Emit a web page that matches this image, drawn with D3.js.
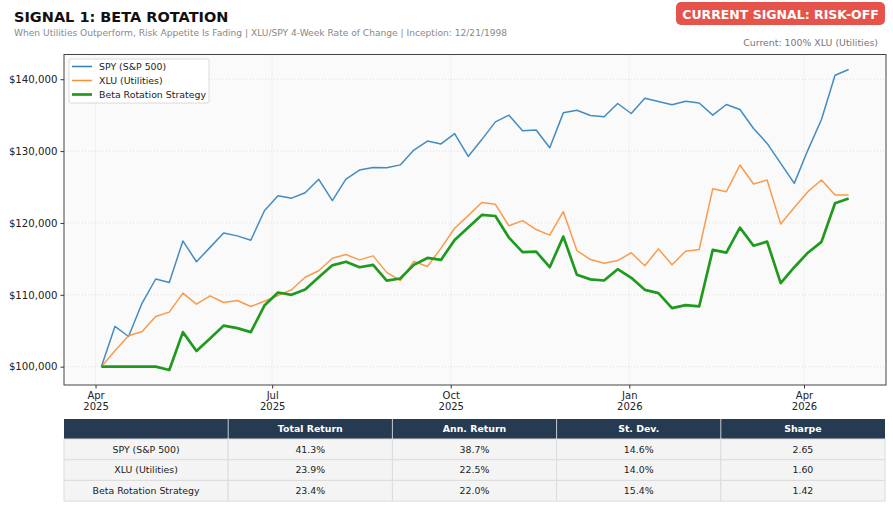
<!DOCTYPE html>
<html>
<head>
<meta charset="utf-8">
<script src="https://cdn.jsdelivr.net/npm/d3@7"></script>
<style>
  body { margin: 0; background: #fff; }
  text { font-family: "DejaVu Sans", sans-serif; }
</style>
</head>
<body>
<div id="chart"></div>
<script>
// weekly closes, growth of $100k
const dates = ['2025-04-04', '2025-04-11', '2025-04-18', '2025-04-25', '2025-05-02', '2025-05-09', '2025-05-16',
    '2025-05-23', '2025-05-30', '2025-06-06', '2025-06-13', '2025-06-20', '2025-06-27', '2025-07-04', '2025-07-11',
    '2025-07-18', '2025-07-25', '2025-08-01', '2025-08-08', '2025-08-15', '2025-08-22', '2025-08-29', '2025-09-05',
    '2025-09-12', '2025-09-19', '2025-09-26', '2025-10-03', '2025-10-10', '2025-10-17', '2025-10-24', '2025-10-31',
    '2025-11-07', '2025-11-14', '2025-11-21', '2025-11-28', '2025-12-05', '2025-12-12', '2025-12-19', '2025-12-26',
    '2026-01-02', '2026-01-09', '2026-01-16', '2026-01-23', '2026-01-30', '2026-02-06', '2026-02-13', '2026-02-20',
    '2026-02-27', '2026-03-06', '2026-03-13', '2026-03-20', '2026-03-27', '2026-04-03', '2026-04-10', '2026-04-17',
    '2026-04-24'];

const spy = [100000, 105600, 104200, 108850, 112200, 111700, 117500, 114600, 116600, 118600, 118200, 117600,
    121700, 123800, 123450, 124200, 126070, 123100, 126110, 127360, 127730, 127680, 128080, 130140, 131390,
    131000, 132430, 129260, 131600, 134070, 135000, 132820, 132940, 130460, 135320, 135690, 134950, 134770,
    136620, 135230, 137360, 136900, 136440, 136940, 136700, 135000, 136480, 135790, 133150, 131070, 128290,
    125510, 130140, 134400, 140560, 141350];

const xlu = [100000, 102200, 104300, 104900, 106990, 107590, 110230, 108700, 109860, 108930, 109210, 108380,
    109100, 109900, 110700, 112450, 113350, 115090, 115600, 114860, 115420, 113120, 111990, 114630, 113930,
    116490, 119260, 121020, 122850, 122590, 119600, 120320, 119080, 118310, 121570, 116160, 114900, 114400,
    114770, 115850, 114050, 116390, 114190, 116060, 116300, 124770, 124350, 128060, 125420, 125970, 119840,
    122150, 124350, 125970, 123890, 123890];

const strategy = [100000, 100000, 100000, 100000, 100000, 99540, 104810, 102180, 103910, 105710, 105370, 104810,
    108500, 110320, 110000, 110740, 112430, 114100, 114600, 113840, 114170, 111970, 112270, 114170, 115130,
    114860, 117640, 119380, 121110, 120970, 117950, 115930, 116020, 113840, 118100, 112780, 112150, 111990,
    113560, 112370, 110690, 110230, 108150, 108560, 108380, 116250, 115880, 119350, 116830, 117400, 111620,
    113840, 115860, 117370, 122740, 123400];

const seriesNames = ['SPY (S&P 500)', 'XLU (Utilities)', 'Beta Rotation Strategy'];
const xTickDates = ['2025-04-01', '2025-07-01', '2025-10-01', '2026-01-01', '2026-04-01'];
const yTicks = [100000, 110000, 120000, 130000, 140000];

const tableHeader = ['', 'Total Return', 'Ann. Return', 'St. Dev.', 'Sharpe'];
const tableRows = [
    ['SPY (S&P 500)', '41.3%', '38.7%', '14.6%', '2.65'],
    ['XLU (Utilities)', '23.9%', '22.5%', '14.0%', '1.60'],
    ['Beta Rotation Strategy', '23.4%', '22.0%', '15.4%', '1.42']
];

const W = 893, H = 509;
const plot = {left: 64, top: 54.5, right: 886, bottom: 385};
const colors = ['#2f7fbb', '#f8903a', '#1f9a1f'];
const widths = [1.5, 1.5, 2.7];

const parse = d3.timeParse('%Y-%m-%d');
const dd = dates.map(parse);

const svg = d3.select('#chart').append('svg')
    .attr('width', W)
    .attr('height', H);

// header
svg.append('text').attr('x', 14).attr('y', 21.5)
    .style('font-size', '14.5px').style('font-weight', 'bold').attr('fill', '#111')
    .text('SIGNAL 1: BETA ROTATION');
svg.append('text').attr('x', 14).attr('y', 35.5)
    .style('font-size', '9.1px').attr('fill', '#888')
    .text('When Utilities Outperform, Risk Appetite Is Fading | XLU/SPY 4-Week Rate of Change | Inception: 12/21/1998');

svg.append('rect').attr('x', 676).attr('y', 2).attr('width', 209).attr('height', 23)
    .attr('rx', 5).attr('fill', '#e5534b');
svg.append('text').attr('x', 780.5).attr('y', 18.5).attr('text-anchor', 'middle')
    .style('font-size', '12.5px').style('font-weight', 'bold').attr('fill', '#fff')
    .text('CURRENT SIGNAL: RISK-OFF');
svg.append('text').attr('x', 878).attr('y', 46).attr('text-anchor', 'end')
    .style('font-size', '9.4px').attr('fill', '#777')
    .text('Current: 100% XLU (Utilities)');

// scales, with matplotlib-like 5% margins
const [t0, t1] = d3.extent(dd);
const span = t1 - t0;
const xScale = d3.scaleTime()
    .domain([new Date(+t0 - span * 0.05), new Date(+t1 + span * 0.05)])
    .range([plot.left, plot.right]);

const allVals = spy.concat(xlu, strategy);
const [vMin, vMax] = d3.extent(allVals);
const vPad = (vMax - vMin) * 0.05;
const yScale = d3.scaleLinear()
    .domain([vMin - vPad, vMax + vPad])
    .range([plot.bottom, plot.top]);

svg.append('rect')
    .attr('x', plot.left).attr('y', plot.top)
    .attr('width', plot.right - plot.left).attr('height', plot.bottom - plot.top)
    .attr('fill', '#fafafa');

// grid
const grid = svg.append('g');
grid.selectAll('.gy').data(yTicks).enter().append('line')
    .attr('x1', plot.left).attr('x2', plot.right)
    .attr('y1', d => yScale(d)).attr('y2', d => yScale(d))
    .attr('stroke', '#d8d8d8').attr('stroke-width', 0.8).attr('stroke-dasharray', '1,2');
grid.selectAll('.gx').data(xTickDates.map(parse)).enter().append('line')
    .attr('y1', plot.top).attr('y2', plot.bottom)
    .attr('x1', d => xScale(d)).attr('x2', d => xScale(d))
    .attr('stroke', '#d8d8d8').attr('stroke-width', 0.8).attr('stroke-dasharray', '1,2');

// axes
const yAxis = svg.append('g')
    .attr('transform', `translate(${plot.left},0)`)
    .call(d3.axisLeft(yScale).tickValues(yTicks).tickSize(3.5).tickPadding(3)
        .tickFormat(d => '$' + d3.format(',')(d)));
yAxis.select('.domain').remove();
yAxis.selectAll('text').style('font-size', '10.2px').attr('fill', '#222');
yAxis.selectAll('line').attr('stroke', '#333');

const xAxis = svg.append('g')
    .attr('transform', `translate(0,${plot.bottom})`)
    .call(d3.axisBottom(xScale).tickValues(xTickDates.map(parse)).tickSize(3.5).tickPadding(3)
        .tickFormat(() => ''));
xAxis.select('.domain').remove();
xAxis.selectAll('line').attr('stroke', '#333');
xAxis.selectAll('.tick text').each(function (d) {
    const t = d3.select(this).style('font-size', '10px').attr('fill', '#222');
    t.append('tspan').attr('x', 0).attr('dy', '0.71em').text(d3.timeFormat('%b')(d));
    t.append('tspan').attr('x', 0).attr('dy', '1.1em').text(d3.timeFormat('%Y')(d));
});
xAxis.selectAll('.tick text').attr('dy', null);

// lines
const series = [spy, xlu, strategy];
const line = d3.line()
    .x((d, i) => xScale(dd[i]))
    .y(d => yScale(d));

svg.append('g').selectAll('path')
    .data(series)
    .enter()
    .append('path')
    .attr('d', d => line(d))
    .attr('fill', 'none')
    .attr('stroke', (d, i) => colors[i])
    .attr('stroke-width', (d, i) => widths[i])
    .attr('stroke-linejoin', 'round')
    .style('opacity', (d, i) => i < 2 ? 0.9 : 1);

// frame
svg.append('rect')
    .attr('x', plot.left).attr('y', plot.top)
    .attr('width', plot.right - plot.left).attr('height', plot.bottom - plot.top)
    .attr('fill', 'none').attr('stroke', '#444').attr('stroke-width', 1);

// legend
const lg = svg.append('g').attr('transform', 'translate(69,59)');
lg.append('rect').attr('width', 140).attr('height', 44).attr('rx', 2)
    .attr('fill', '#fff').attr('fill-opacity', 0.85).attr('stroke', '#d0d0d0').attr('stroke-width', 0.8);
seriesNames.forEach((name, i) => {
    const y = 7.5 + i * 14;
    lg.append('line').attr('x1', 3).attr('x2', 23).attr('y1', y).attr('y2', y)
        .attr('stroke', colors[i]).attr('stroke-width', widths[i]);
    lg.append('text').attr('x', 30).attr('y', y + 3.4)
        .style('font-size', '9.4px').attr('fill', '#222').text(name);
});

// stats table
const tbl = {left: 64, right: 885, top: 419, headH: 20, rowH: 20.7};
const colW = (tbl.right - tbl.left) / tableHeader.length;
const tg = svg.append('g');
tg.append('rect').attr('x', tbl.left).attr('y', tbl.top)
    .attr('width', tbl.right - tbl.left).attr('height', tbl.headH).attr('fill', '#263a52');
tableHeader.forEach((h, j) => {
    if (j > 0) {
        tg.append('line').attr('x1', tbl.left + j * colW).attr('x2', tbl.left + j * colW)
            .attr('y1', tbl.top).attr('y2', tbl.top + tbl.headH)
            .attr('stroke', '#c8ccd2').attr('stroke-width', 1);
    }
    tg.append('text').attr('x', tbl.left + (j + 0.5) * colW).attr('y', tbl.top + tbl.headH / 2 + 3.3)
        .attr('text-anchor', 'middle').style('font-size', '9.4px').style('font-weight', 'bold')
        .attr('fill', '#fff').text(h);
});
tableRows.forEach((row, r) => {
    const y = tbl.top + tbl.headH + r * tbl.rowH;
    row.forEach((cell, j) => {
        tg.append('rect').attr('x', tbl.left + j * colW).attr('y', y)
            .attr('width', colW).attr('height', tbl.rowH)
            .attr('fill', '#f4f4f4').attr('stroke', '#dcdcdc').attr('stroke-width', 1);
        tg.append('text').attr('x', tbl.left + (j + 0.5) * colW).attr('y', y + tbl.rowH / 2 + 3.3)
            .attr('text-anchor', 'middle').style('font-size', '9.4px').attr('fill', '#222').text(cell);
    });
});
</script>
</body>
</html>
